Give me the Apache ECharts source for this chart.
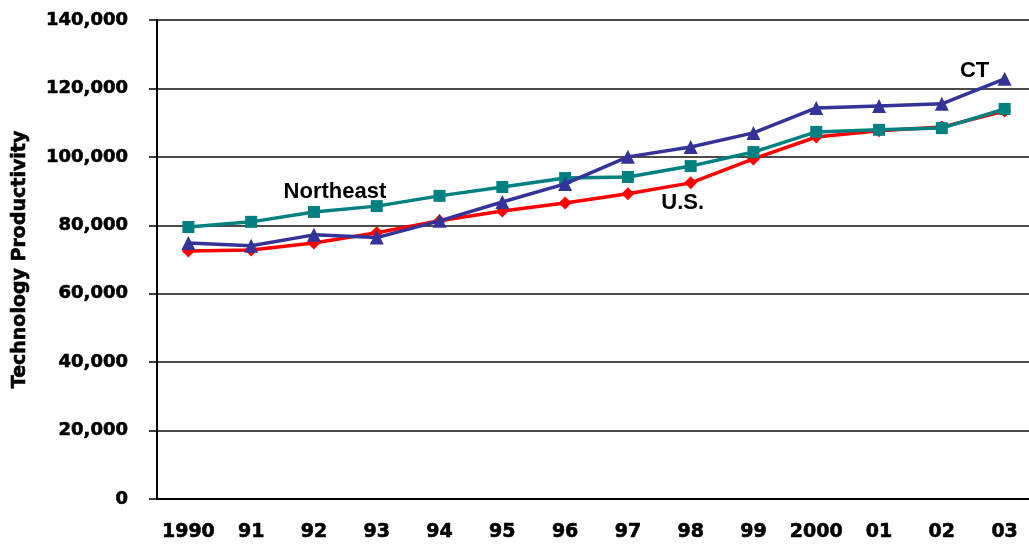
<!DOCTYPE html>
<html>
<head>
<meta charset="utf-8">
<script src="https://cdn.jsdelivr.net/npm/echarts@6/dist/echarts.min.js"></script>
<style>
  html, body { margin: 0; padding: 0; background: #fff; }
  #chart { width: 1029px; height: 546px; }
</style>
</head>
<body>
<div id="chart"></div>
<script>
// Years shown along the category axis
const years = ['1990', '91', '92', '93', '94', '95', '96', '97', '98', '99', '2000', '01', '02', '03'];

// Technology productivity by region
const ctValues = [74800, 74000, 77200, 76400, 81300, 86800, 92100, 100000, 102900, 107000, 114300, 114900, 115500, 122800];
const northeastValues = [79500, 81000, 83900, 85600, 88600, 91200, 93800, 94100, 97300, 101400, 107300, 107900, 108400, 114000];
const usValues = [72500, 72800, 74800, 77800, 81300, 84200, 86500, 89200, 92400, 99400, 105800, 107600, 108700, 113400];

// Value axis range and ticks
const yMin = 0;
const yMax = 140000;
const yStep = 20000;

const tickFont = 'DejaVu Sans, Liberation Sans, Arial, sans-serif';
const noteFont = 'Liberation Sans, Arial, sans-serif';

// Slight outline to give the axis text a heavier stroke
const heavyText = { textBorderColor: '#000', textBorderWidth: 0.6 };

// Attach a callout text to a single point of a series
function withNote(values, index, text, offset) {
  return values.map((v, i) => {
    if (i !== index) return v;
    return {
      value: v,
      label: {
        show: true,
        formatter: text,
        position: 'inside',
        offset: offset,
        color: '#000',
        fontFamily: noteFont,
        fontWeight: 'bold',
        fontSize: 22
      }
    };
  });
}

const chart = echarts.init(document.getElementById('chart'), null, { renderer: 'canvas' });

chart.setOption({
  animation: false,
  backgroundColor: '#fff',
  grid: { left: 157, top: 20, width: 879, bottom: 47, containLabel: false, outerBoundsMode: 'none' },
  xAxis: {
    type: 'category',
    data: years,
    boundaryGap: true,
    axisLine: { show: true, lineStyle: { color: '#000', width: 2 } },
    axisTick: { show: false },
    axisLabel: Object.assign({
      interval: 0,
      color: '#000',
      fontFamily: tickFont,
      fontWeight: 'bold',
      fontSize: 19,
      margin: 24
    }, heavyText),
    splitLine: { show: false }
  },
  yAxis: {
    type: 'value',
    min: yMin,
    max: yMax,
    interval: yStep,
    name: 'Technology Productivity',
    nameLocation: 'middle',
    nameGap: 127,
    nameTextStyle: Object.assign({
      color: '#000',
      fontFamily: tickFont,
      fontWeight: 'bold',
      fontSize: 19
    }, heavyText),
    axisLine: { show: true, lineStyle: { color: '#000', width: 2 } },
    axisTick: { show: true, inside: false, length: 8, lineStyle: { color: '#000', width: 1.5 } },
    axisLabel: Object.assign({
      color: '#000',
      fontFamily: tickFont,
      fontWeight: 'bold',
      fontSize: 18,
      margin: 29,
      formatter: v => v.toLocaleString('en-US')
    }, heavyText),
    splitLine: { show: true, lineStyle: { color: '#111', width: 1.5 } }
  },
  series: [
    {
      name: 'U.S.',
      type: 'line',
      data: withNote(usValues, 8, 'U.S.', [-8, 20]),
      symbol: 'diamond',
      symbolSize: 13,
      lineStyle: { color: '#ff0000', width: 3.5 },
      itemStyle: { color: '#ff0000' },
      z: 2
    },
    {
      name: 'Northeast',
      type: 'line',
      data: withNote(northeastValues, 2, 'Northeast', [21, -20]),
      symbol: 'rect',
      symbolSize: 12,
      lineStyle: { color: '#008080', width: 3.5 },
      itemStyle: { color: '#008080' },
      z: 3
    },
    {
      name: 'CT',
      type: 'line',
      data: withNote(ctValues, 13, 'CT', [-30, -8]),
      symbol: 'triangle',
      symbolSize: 14,
      lineStyle: { color: '#333399', width: 3.5 },
      itemStyle: { color: '#333399' },
      z: 4
    }
  ]
});
</script>
</body>
</html>
